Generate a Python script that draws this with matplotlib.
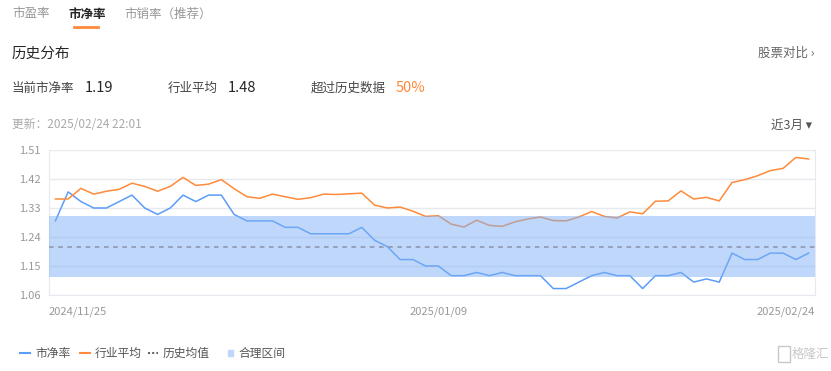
import matplotlib
matplotlib.use("Agg")
import matplotlib.pyplot as plt
from matplotlib.patches import Rectangle
from matplotlib.lines import Line2D

plt.rcParams['font.family'] = ['Noto Sans CJK SC', 'DejaVu Sans']

# 市净率 (blue) and 行业平均 (orange), 60 trading days
pb = [1.29, 1.38, 1.35, 1.33, 1.33, 1.35, 1.37, 1.33, 1.31, 1.33,
      1.37, 1.35, 1.37, 1.37, 1.31, 1.29, 1.29, 1.29, 1.27, 1.27,
      1.25, 1.25, 1.25, 1.25, 1.27, 1.23, 1.21, 1.17, 1.17, 1.15,
      1.15, 1.12, 1.12, 1.13, 1.12, 1.13, 1.12, 1.12, 1.12, 1.08,
      1.08, 1.10, 1.12, 1.13, 1.12, 1.12, 1.08, 1.12, 1.12, 1.13,
      1.10, 1.11, 1.10, 1.19, 1.17, 1.17, 1.19, 1.19, 1.17, 1.19]
industry = [1.358, 1.358, 1.391, 1.373, 1.382, 1.388, 1.407, 1.397, 1.382, 1.397,
            1.425, 1.400, 1.404, 1.418, 1.390, 1.365, 1.360, 1.373, 1.365, 1.357,
            1.362, 1.373, 1.372, 1.374, 1.376, 1.339, 1.330, 1.333, 1.320, 1.304,
            1.306, 1.280, 1.271, 1.292, 1.276, 1.273, 1.287, 1.296, 1.302, 1.291,
            1.290, 1.302, 1.319, 1.304, 1.299, 1.318, 1.312, 1.351, 1.352, 1.383,
            1.358, 1.363, 1.352, 1.409, 1.418, 1.430, 1.446, 1.453, 1.487, 1.482]
hist_mean = 1.21
band_low, band_high = 1.115, 1.305
yticks = [1.06, 1.15, 1.24, 1.33, 1.42, 1.51]
xtick_labels = ['2024/11/25', '2025/01/09', '2025/02/24']

blue = '#5b9cf8'
orange = '#ff8a3a'
dark = '#262626'

fig = plt.figure(figsize=(8.31, 3.71), dpi=100)
W, H = 831, 371

def px(x, y):
    return x / W, 1 - y / H

# header / tabs
fig.text(*px(12, 14), '市盈率', fontsize=9, color='#999999', va='center')
fig.text(*px(68, 14), '市净率', fontsize=9, color=dark, va='center', weight='bold')
fig.text(*px(124, 14), '市销率（推荐）', fontsize=9, color='#999999', va='center')
fig.add_artist(Line2D([74 / W, 98 / W], [1 - 27 / H] * 2, color=orange, lw=2))

fig.text(*px(12, 54), '历史分布', fontsize=10.5, color=dark, va='center')
fig.text(*px(815, 53), '股票对比 ›', fontsize=9, color='#666666', va='center', ha='right')

fig.text(*px(12, 88), '当前市净率', fontsize=9, color='#444444', va='center')
fig.text(*px(85, 88), '1.19', fontsize=10.5, color=dark, va='center')
fig.text(*px(168, 88), '行业平均', fontsize=9, color='#444444', va='center')
fig.text(*px(228, 88), '1.48', fontsize=10.5, color=dark, va='center')
fig.text(*px(311, 88), '超过历史数据', fontsize=9, color='#444444', va='center')
fig.text(*px(396, 88), '50%', fontsize=10.5, color=orange, va='center')

fig.text(*px(12, 125), '更新：2025/02/24 22:01', fontsize=8.5, color='#aaaaaa', va='center')
fig.text(*px(812, 125), '近3月 ▾', fontsize=9, color='#555555', va='center', ha='right')

# chart
ax = fig.add_axes([49 / W, 1 - 295 / H, (815 - 49) / W, (295 - 150) / H])
x = list(range(len(pb)))
ax.plot(x, pb, color=blue, lw=1.1, zorder=2)
ax.plot(x, industry, color=orange, lw=1.1, zorder=2)
ax.axhspan(band_low, band_high, color='#7fb0f6', alpha=0.5, lw=0, zorder=3)
ax.axhline(hist_mean, color='#8a93a8', lw=1.1, ls=(0, (3, 3)), zorder=4)

xmin, xmax = -0.5, len(pb) - 0.5
ax.set_xlim(xmin, xmax)
ax.set_ylim(yticks[0], yticks[-1])
ax.set_yticks(yticks)
ax.set_yticklabels([f'{v:.2f}' for v in yticks])
ax.grid(axis='y', color='#e6e9ee', lw=1, zorder=1)
# first / last date labels sit flush with the plot edges
ax.set_xticks([xmin, 30, xmax])
ax.set_xticklabels(xtick_labels)
labels = ax.get_xticklabels()
labels[0].set_ha('left')
labels[-1].set_ha('right')
ax.tick_params(length=0, labelsize=8, labelcolor='#999999', pad=6)
ax.tick_params(axis='x', pad=8)
for s in ax.spines.values():
    s.set_color('#e6e9ee')
ax.spines['top'].set_visible(False)

# legend
fig.add_artist(Line2D([20 / W, 30 / W], [1 - 353 / H] * 2, color=blue, lw=1.5))
fig.text(*px(35, 353), '市净率', fontsize=8.5, color='#555555', va='center')
fig.add_artist(Line2D([80 / W, 90 / W], [1 - 353 / H] * 2, color=orange, lw=1.5))
fig.text(*px(95, 353), '行业平均', fontsize=8.5, color='#555555', va='center')
fig.add_artist(Line2D([148 / W, 158 / W], [1 - 353 / H] * 2, color='#666666', lw=1.5, ls=(0, (1, 1))))
fig.text(*px(163, 353), '历史均值', fontsize=8.5, color='#555555', va='center')
fig.add_artist(Rectangle((228 / W, 1 - 356 / H), 5 / W, 6 / H, color='#bfd7fb'))
fig.text(*px(238, 353), '合理区间', fontsize=8.5, color='#555555', va='center')

# watermark
fig.add_artist(Rectangle((778 / W, 1 - 362 / H), 12 / W, 16 / H, fill=False, ec='#c8c8c8', lw=1))
fig.text(*px(792, 354), '格隆汇', fontsize=9, color='#c8c8c8', va='center')

fig.savefig('out.png', dpi=100)
